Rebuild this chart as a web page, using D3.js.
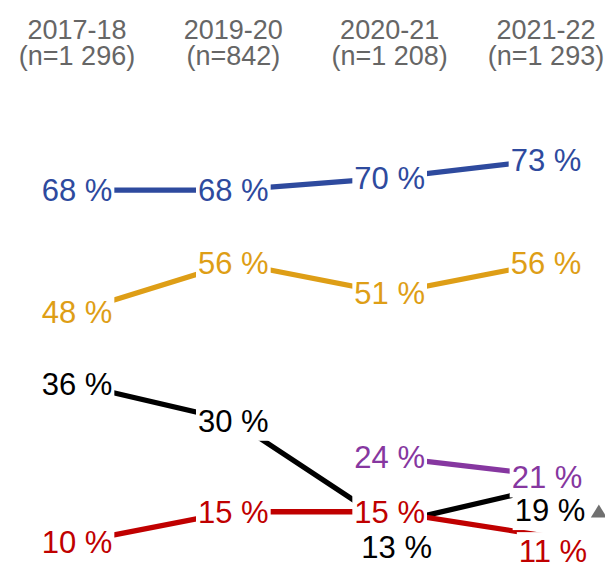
<!DOCTYPE html>
<html>
<head>
<meta charset="utf-8">
<script src="https://cdn.jsdelivr.net/npm/d3@7"></script>
<style>
  html, body { margin: 0; padding: 0; background: #fff; }
  svg { display: block; font-family: "Liberation Sans", Arial, Helvetica, sans-serif; }
</style>
</head>
<body>
<svg id="chart" width="605" height="562"></svg>
<script>
// ---- data ----
const categories = ["2017-18", "2019-20", "2020-21", "2021-22"];
const sampleSizes = ["(n=1 296)", "(n=842)", "(n=1 208)", "(n=1 293)"];
const seriesBlue = [68, 68, 70, 73];
const seriesOrange = [48, 56, 51, 56];
const seriesBlack = [36, 30, 13, 19];
const seriesPurple = [null, null, 24, 21];
const seriesRed = [10, 15, 15, 11];
const significantUp = [["black", 3]]; // triangle marker next to these labels

// ---- styles / layout ----
const colors = {
  blue: "#2E4A9E",
  orange: "#DE9E16",
  black: "#000000",
  purple: "#8637A0",
  red: "#C00000"
};
const seriesList = [
  { key: "blue", values: seriesBlue },
  { key: "orange", values: seriesOrange },
  { key: "black", values: seriesBlack },
  { key: "purple", values: seriesPurple },
  { key: "red", values: seriesRed }
];
// label nudges (px) to avoid overlaps
const labelNudge = {
  "black-2": [7, 23.5],
  "black-3": [4, 22.5],
  "red-3": [7, 15],
  "purple-3": [1, 2]
};
const valueFont = 31, headerFont = 27;

const svg = d3.select("#chart");
const x = d3.scalePoint().domain(categories).range([77, 546]);
const y = d3.scaleLinear().domain([0, 100]).range([602.8, -4.2]);

// header
const hdr = svg.append("g").attr("fill", "#666666").attr("font-size", headerFont).attr("text-anchor", "middle");
categories.forEach((c, i) => {
  hdr.append("text").attr("x", x(c)).attr("y", 38.5).text(c);
  hdr.append("text").attr("x", x(c)).attr("y", 65).text(sampleSizes[i]);
});

// lines
const line = d3.line()
  .defined(d => d.v != null)
  .x(d => x(d.c))
  .y(d => y(d.v));

const linesG = svg.append("g");
seriesList.forEach(s => {
  const pts = s.values.map((v, i) => ({ c: categories[i], v }));
  linesG.append("path")
    .datum(pts)
    .attr("d", line)
    .attr("fill", "none")
    .attr("stroke", colors[s.key])
    .attr("stroke-width", 5.3);
});

// labels with white knockout boxes
const labelsG = svg.append("g").attr("font-size", valueFont).attr("text-anchor", "middle");
const labelNodes = {};
seriesList.forEach(s => {
  s.values.forEach((v, i) => {
    if (v == null) return;
    const nudge = labelNudge[s.key + "-" + i] || [0, 0];
    const g = labelsG.append("g");
    const rect = g.append("rect").attr("fill", "#fff");
    const t = g.append("text")
      .attr("x", x(categories[i]) + nudge[0])
      .attr("y", y(v) + nudge[1] + valueFont * 0.716 / 2)
      .attr("fill", colors[s.key])
      .text(v + " %");
    const bb = t.node().getBBox();
    rect.attr("x", bb.x - 2).attr("y", bb.y - 2).attr("width", bb.width + 4).attr("height", bb.height + 4);
    labelNodes[s.key + "-" + i] = bb;
  });
});

// significance markers
significantUp.forEach(([key, i]) => {
  const bb = labelNodes[key + "-" + i];
  if (!bb) return;
  const cx = bb.x + bb.width + 13.5;
  const cy = bb.y + bb.height / 2 + 0.5;
  const s = 16;
  const h = 13;
  svg.append("path")
    .attr("d", `M${cx},${cy - h / 2}L${cx + s / 2},${cy + h / 2}L${cx - s / 2},${cy + h / 2}Z`)
    .attr("fill", "#707070");
});
</script>
</body>
</html>
